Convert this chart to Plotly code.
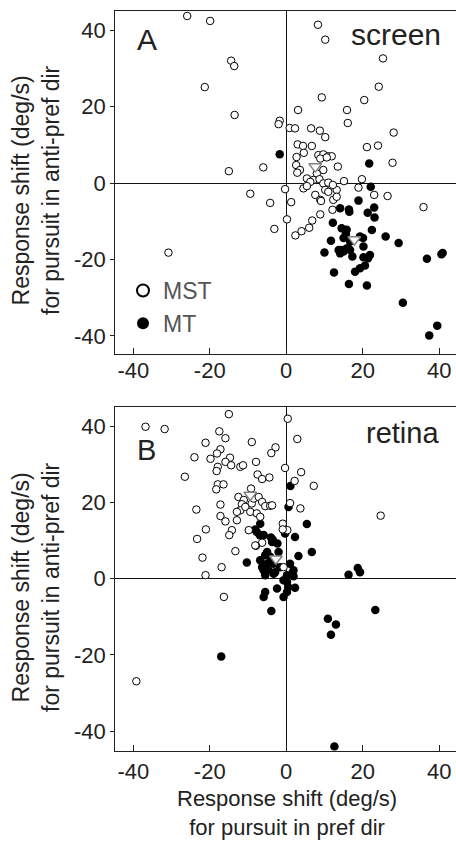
import plotly.graph_objects as go

# ---------------- data ----------------
tick_vals = [-40, -20, 0, 20, 40]
tick_text = ["-40", "-20", "0", "20", "40"]

# Panel A (screen)
a_mst_x = [-25.9, -19.9, -14.4, -13.6, -21.3, -13.5, 8.3, 10.2, 25.3, 24.2, 20.4, 9.3, 3.1, 15.9, 16.1, 28.1,
           -1.7, -2.0, 0.9, 2.3, 6.5, 8.8, 10.2, 3.0, 4.4, 6.7, 4.6, 21.1, 24.0, 27.8, 2.7, 2.6, 3.6, 2.9,
           8.4, 9.7, 11.0, 11.9, 8.9, 10.6, 9.7, 13.5, 8.0, 5.4, 7.1, 8.7, 9.7, 11.0, 6.3, 4.5, 5.4, 15.1,
           19.8, -15.0, -6.0, -9.4, -0.3, -4.2, 1.3, 0.2, -3.1, 2.4, 4.0, 6.0, 6.8, 8.9, -30.8, 7.6, 8.9,
           10.2, 11.0, 12.3, 13.2, 12.2, 13.2, 9.1, 12.1, 18.9, 23.0, 26.5, 35.9]
a_mst_y = [43.7, 42.4, 32.0, 30.6, 25.1, 17.8, 41.4, 37.5, 32.6, 25.2, 21.7, 22.4, 19.1, 19.1, 15.7, 13.2,
           16.3, 15.4, 14.4, 14.3, 14.3, 13.7, 12.0, 10.1, 9.7, 9.7, 7.9, 9.4, 9.8, 5.3, 6.8, 4.7, 3.4, 2.7,
           7.3, 7.5, 7.0, 7.0, 6.4, 6.7, 3.4, 4.3, 2.5, 1.2, 0.8, 1.0, -0.1, 0.1, 0.3, -1.4, -0.8, 0.5,
           1.0, 3.1, 4.1, -2.8, -1.6, -5.2, -5.0, -9.5, -12.0, -13.7, -12.6, -11.7, -9.8, -8.2, -18.2, -3.1, -4.4,
           -1.8, -2.3, -4.4, -1.8, -0.5, -3.6, -4.7, -7.0, -1.2, -3.1, -3.4, -6.3]

a_mt_x = [-1.7, 21.7, 22.1, 18.9, 23.0, 14.1, 16.4, 16.5, 21.3, 23.1, 12.2, 14.5, 15.8, 15.6, 22.4, 26.0,
          29.4, 11.7, 15.0, 16.7, 19.3, 20.2, 20.1, 10.0, 14.1, 15.0, 15.8, 16.7, 13.7, 17.3, 20.2, 21.9,
          21.4, 20.6, 19.3, 18.0, 12.5, 16.4, 21.1, 30.5, 36.8, 40.6, 40.9, 39.5, 37.4, 14.4, 16.3]
a_mt_y = [7.5, 5.1, -1.0, -4.6, -6.4, -6.6, -6.9, -7.5, -7.8, -9.0, -10.4, -11.8, -12.2, -13.3, -12.3, -14.0,
          -15.7, -15.1, -14.4, -15.3, -14.0, -16.6, -14.4, -18.2, -18.4, -17.9, -17.1, -17.5, -17.5, -19.2, -19.4, -18.8,
          -19.7, -21.6, -22.3, -23.2, -23.4, -26.4, -26.8, -31.3, -19.8, -18.6, -18.3, -37.3, -39.9, -17.5, -17.1]

a_mean_x = [7.6, 17.8]
a_mean_y = [4.3, -14.8]

# Panel B (retina)
b_mst_x = [-36.8, -31.8, -15.0, 0.4, -17.5, -15.9, 2.9, -21.1, -9.0, -2.8, -3.9, -17.2, -18.1, -24.0, -19.8,
           -14.7, -15.9, -14.4, -17.9, -18.2, -12.0, -11.3, -7.9, -0.3, 3.9, -7.5, -6.3, -4.4, 2.2, 7.2, -26.5,
           -17.9, -16.4, -18.3, -9.2, -12.5, -11.1, -11.6, -12.0, -10.7, -9.0, -8.5, -7.2, -6.3, -5.5, -4.2, -3.7,
           -9.4, -7.7, -6.8, -12.9, -17.2, -23.5, 1.0, 3.7, -17.2, -15.9, -12.9, -14.2, -14.9, -9.8, -21.0, -23.3,
           -6.3, -7.9, -13.3, -21.9, -16.9, -21.1, -0.9, 0.3, -0.9, 24.7, -16.3, -39.2, -8.1, -0.7]
b_mst_y = [39.8, 39.2, 43.1, 41.9, 38.6, 36.8, 36.6, 35.6, 35.8, 34.4, 32.9, 33.9, 32.8, 31.8, 31.4,
           31.7, 30.6, 29.7, 29.3, 28.2, 29.3, 29.7, 30.6, 29.0, 27.9, 27.3, 26.1, 26.5, 25.6, 24.3, 26.7,
           24.7, 24.7, 23.4, 23.6, 21.4, 20.6, 19.5, 17.9, 18.8, 19.7, 21.0, 21.4, 20.1, 19.0, 19.1, 19.2,
           17.5, 17.1, 16.2, 17.5, 19.4, 18.1, 19.8, 18.4, 16.4, 15.0, 15.3, 12.7, 11.4, 12.7, 12.9, 10.4,
           9.4, 8.6, 7.2, 5.5, 3.0, 0.9, 14.4, 12.7, 12.9, 16.5, -4.8, -26.9, 8.7, 3.0]

b_mt_x = [1.1, 0.6, 5.4, -6.8, -8.1, -7.7, -6.9, -5.9, -4.0, -3.5, -3.7, -2.3, -0.3, 2.3, -5.0, -2.0, 6.7,
          3.2, -10.3, -6.8, -5.5, -4.2, -5.0, -3.3, -6.3, -4.6, -2.9, -1.6, 1.0, 1.5, 0.2, 1.9, -5.9, -5.5,
          -3.3, 1.9, 16.3, 18.7, 19.3, -0.7, 0.2, -2.4, -5.5, -5.9, 0.2, 2.3, -0.7, 0.5, -3.9, 10.9, 13.0,
          11.7, 23.3, -17.0, 12.6]
b_mt_y = [24.3, 18.8, 14.3, 14.4, 12.9, 12.2, 11.4, 11.4, 10.8, 10.2, 9.6, 9.2, 11.8, 10.9, 7.0, 7.0, 7.0,
          5.9, 4.2, 4.8, 6.1, 5.7, 3.9, 3.9, 3.0, 2.2, 1.7, 3.0, 3.9, 1.3, 0.9, 2.2, 2.2, 0.9,
          1.3, 0.6, 1.0, 2.8, 1.7, -0.4, -0.9, -2.6, -3.5, -4.8, -3.5, -2.4, -4.8, -2.2, -8.5, -10.5, -12.0,
          -14.7, -8.2, -20.4, -44.0]

b_mean_x = [-9.4, -2.7]
b_mean_y = [21.9, 5.2]

series_names = ["MST", "MT"]
panel_labels = ["A", "B"]
panel_titles = ["screen", "retina"]
x_title_lines = ["Response shift (deg/s)", "for pursuit in pref dir"]
y_title_lines = ["Response shift (deg/s)", "for pursuit in anti-pref dir"]

# ---------------- figure ----------------
FONT = "Liberation Sans, Arial, Helvetica, sans-serif"
W, H = 456, 844

fig = go.Figure()

open_marker = dict(symbol="circle", size=7.5, color="white", line=dict(color="black", width=1))
fill_marker = dict(symbol="circle", size=8.5, color="black", line=dict(color="black", width=0))
mean_marker = dict(symbol="triangle-down", size=11, color="white", line=dict(color="#808080", width=1.5))

for (mtx, mty, msx, msy, mnx, mny, xa, ya, show) in [
    (a_mt_x, a_mt_y, a_mst_x, a_mst_y, a_mean_x, a_mean_y, "x", "y", True),
    (b_mt_x, b_mt_y, b_mst_x, b_mst_y, b_mean_x, b_mean_y, "x2", "y2", False),
]:
    fig.add_trace(go.Scatter(x=mtx, y=mty, mode="markers", marker=fill_marker, name=series_names[1],
                             legendgroup="mt", showlegend=show, legendrank=2, xaxis=xa, yaxis=ya))
    fig.add_trace(go.Scatter(x=msx, y=msy, mode="markers", marker=open_marker, name=series_names[0],
                             legendgroup="mst", showlegend=show, legendrank=1, xaxis=xa, yaxis=ya))
    fig.add_trace(go.Scatter(x=mnx, y=mny, mode="markers", marker=mean_marker, name="mean",
                             showlegend=False, xaxis=xa, yaxis=ya))

x_dom = [115.3 / W, 1.0]
yA_dom = [1 - 354.3 / H, 1 - 11 / H]
yB_dom = [1 - 750.7 / H, 1 - 407.3 / H]

common_x = dict(range=[-44.7, 44.4], tickvals=tick_vals, ticktext=tick_text, ticks="inside", ticklen=6,
                tickwidth=1, tickcolor="#222", showline=True, linecolor="#222", linewidth=1.2, mirror=True,
                showgrid=False, zeroline=True, zerolinecolor="#111", zerolinewidth=1.2,
                tickfont=dict(family=FONT, size=22, color="#222"), automargin=False,
                fixedrange=True)
common_y = dict(tickvals=tick_vals, ticktext=tick_text, ticks="outside", ticklen=4, tickwidth=1,
                tickcolor="#222", showline=True, linecolor="#222", linewidth=1.2, mirror=False,
                showgrid=False, zeroline=True, zerolinecolor="#111", zerolinewidth=1.2,
                tickfont=dict(family=FONT, size=22, color="#222"), automargin=False, fixedrange=True)

fig.update_layout(
    width=W, height=H,
    margin=dict(l=0, r=0, t=0, b=0),
    paper_bgcolor="white", plot_bgcolor="white",
    font=dict(family=FONT, color="#222"),
    xaxis=dict(domain=x_dom, anchor="y", ticklabelstandoff=-4, **common_x),
    yaxis=dict(domain=yA_dom, anchor="x", range=[-44.8, 45.0], **common_y),
    xaxis2=dict(domain=x_dom, anchor="y2", ticklabelstandoff=1, **common_x),
    yaxis2=dict(domain=yB_dom, anchor="x2", range=[-45.1, 44.9], **common_y),
    showlegend=True,
    legend=dict(x=123 / W, y=1 - 269 / H, xanchor="left", yanchor="top", bgcolor="rgba(0,0,0,0)",
                font=dict(family=FONT, size=23, color="#555"), itemsizing="constant",
                tracegroupgap=0),
)

ann = []
# panel letters and titles
ann.append(dict(text=panel_labels[0], x=135 / W, y=1 - 39.5 / H, xanchor="left", yanchor="middle",
                font=dict(family=FONT, size=30, color="#222")))
ann.append(dict(text=panel_titles[0], x=443 / W, y=1 - 34.5 / H, xanchor="right", yanchor="middle",
                font=dict(family=FONT, size=30, color="#222")))
ann.append(dict(text=panel_labels[1], x=135 / W, y=1 - 450 / H, xanchor="left", yanchor="middle",
                font=dict(family=FONT, size=29, color="#222")))
ann.append(dict(text=panel_titles[1], x=441 / W, y=1 - 433 / H, xanchor="right", yanchor="middle",
                font=dict(family=FONT, size=29, color="#222")))
# x title (two lines in one text)
ann.append(dict(text="<br>".join(x_title_lines), x=287 / W, y=1 - 813 / H, xanchor="center",
                yanchor="middle", font=dict(family=FONT, size=22, color="#222")))
# y titles (two lines in one text)
for cy in (190, 587):
    ann.append(dict(text="<br>".join(y_title_lines), x=36 / W, y=1 - cy / H, xanchor="center",
                    yanchor="middle", textangle=-90, font=dict(family=FONT, size=23, color="#222")))
for a in ann:
    a.update(xref="paper", yref="paper", showarrow=False)
fig.update_layout(annotations=ann)

fig.write_html("out.html", config={"displayModeBar": False},
               post_script="document.body.style.margin='0';document.body.style.padding='0';"
                           "document.body.style.overflow='hidden';")
